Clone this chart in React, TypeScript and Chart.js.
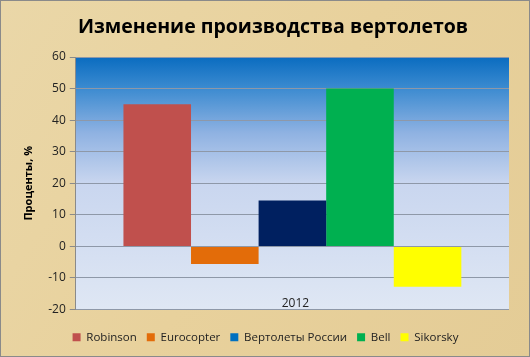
import React, { useEffect, useRef } from "react";
import { Chart, registerables } from "chart.js";

Chart.register(...registerables);

const categories = ["2012"];
const seriesNames = ["Robinson", "Eurocopter", "Вертолеты России", "Bell", "Sikorsky"];
const seriesValues = [[45], [-5.6], [14.5], [50], [-12.8]];
const barColors = ["#c0504d", "#e36c09", "#002060", "#00b050", "#ffff00"];
const legendColors = ["#c0504d", "#e36c09", "#0070c0", "#00b050", "#ffff00"];
const yTicks = [-20, -10, 0, 10, 20, 30, 40, 50, 60];
const titleText = "Изменение производства вертолетов";

const FONT = "'Open Sans', 'Noto Sans', sans-serif";

const bgPlugin = {
  id: "bgPlugin",
  beforeDraw(chart: any) {
    const { ctx, width, height, chartArea } = chart;
    ctx.save();
    const g = ctx.createLinearGradient(0, 0, width, height);
    g.addColorStop(0, "#ead7a8");
    g.addColorStop(0.5, "#e8d19c");
    g.addColorStop(1, "#e4cc96");
    ctx.fillStyle = g;
    ctx.fillRect(0, 0, width, height);
    ctx.strokeStyle = "#8a8a8a";
    ctx.lineWidth = 1;
    ctx.strokeRect(0.5, 0.5, width - 1, height - 1);
    const { left, right, top, bottom } = chartArea;
    const pg = ctx.createLinearGradient(0, top, 0, bottom);
    pg.addColorStop(0, "#0a6cc0");
    pg.addColorStop(0.12, "#3a8ad0");
    pg.addColorStop(0.3, "#8fb2e2");
    pg.addColorStop(0.5, "#c9d6ef");
    pg.addColorStop(1, "#dfe7f4");
    ctx.fillStyle = pg;
    ctx.fillRect(left, top, right - left, bottom - top);
    ctx.fillStyle = "#000";
    ctx.font = `bold 19.5px ${FONT}`;
    ctx.textAlign = "center";
    ctx.textBaseline = "middle";
    ctx.fillText(titleText, 273, 27);
    ctx.restore();
  },
  afterDatasetsDraw(chart: any) {
    const { ctx, chartArea } = chart;
    ctx.save();
    ctx.fillStyle = "#222";
    ctx.font = `12px ${FONT}`;
    ctx.textAlign = "center";
    ctx.textBaseline = "bottom";
    ctx.fillText(categories[0], (chartArea.left + chartArea.right) / 2 + 3, chartArea.bottom);
    ctx.restore();
  },
};

export default function App() {
  const ref = useRef<HTMLCanvasElement>(null);
  useEffect(() => {
    document.body.style.margin = "0";
    const chart = new Chart(ref.current!, {
      type: "bar",
      data: {
        labels: categories,
        datasets: seriesNames.map((name, i) => ({
          label: name,
          data: seriesValues[i],
          backgroundColor: barColors[i],
          borderWidth: 0,
          barPercentage: 1,
          categoryPercentage: 0.78,
        })),
      },
      options: {
        animation: false,
        responsive: false,
        maintainAspectRatio: false,
        layout: { padding: { left: 22, right: 21, top: 57, bottom: 4 } },
        plugins: {
          tooltip: { enabled: false },
          title: { display: false },
          legend: {
            position: "bottom",
            labels: {
              color: "#222",
              font: { family: FONT, size: 11.5 },
              boxWidth: 8,
              boxHeight: 8,
              padding: 10,
              generateLabels: () =>
                seriesNames.map((n, i) => ({
                  text: n,
                  fillStyle: legendColors[i],
                  strokeStyle: legendColors[i],
                  lineWidth: 0,
                  hidden: false,
                  datasetIndex: i,
                  fontColor: "#222",
                })),
            },
          },
        },
        scales: {
          x: {
            display: true,
            grid: { display: false },
            border: { display: false },
            ticks: { display: false },
            afterFit: (axis: any) => {
              axis.height = 12;
            },
          },
          y: {
            min: -20,
            max: 60,
            afterBuildTicks: (axis: any) => {
              axis.ticks = yTicks.map((v) => ({ value: v }));
            },
            ticks: { color: "#222", font: { family: FONT, size: 12 }, padding: 4 },
            grid: {
              color: "#8e98a8",
              lineWidth: 1,
              drawTicks: true,
              tickLength: 6,
              tickColor: "#8a8a8a",
            },
            border: { display: true, color: "#8a8a8a" },
            title: {
              display: true,
              text: "Проценты, %",
              color: "#000",
              font: { family: FONT, size: 11, weight: "bold" },
              padding: { top: 0, bottom: 9 },
            },
          },
        },
      },
      plugins: [bgPlugin],
    });
    return () => chart.destroy();
  }, []);
  return (
    <div style={{ position: "absolute", left: 0, top: 0, width: 530, height: 357 }}>
      <canvas ref={ref} width={530} height={357} style={{ display: "block" }} />
    </div>
  );
}
